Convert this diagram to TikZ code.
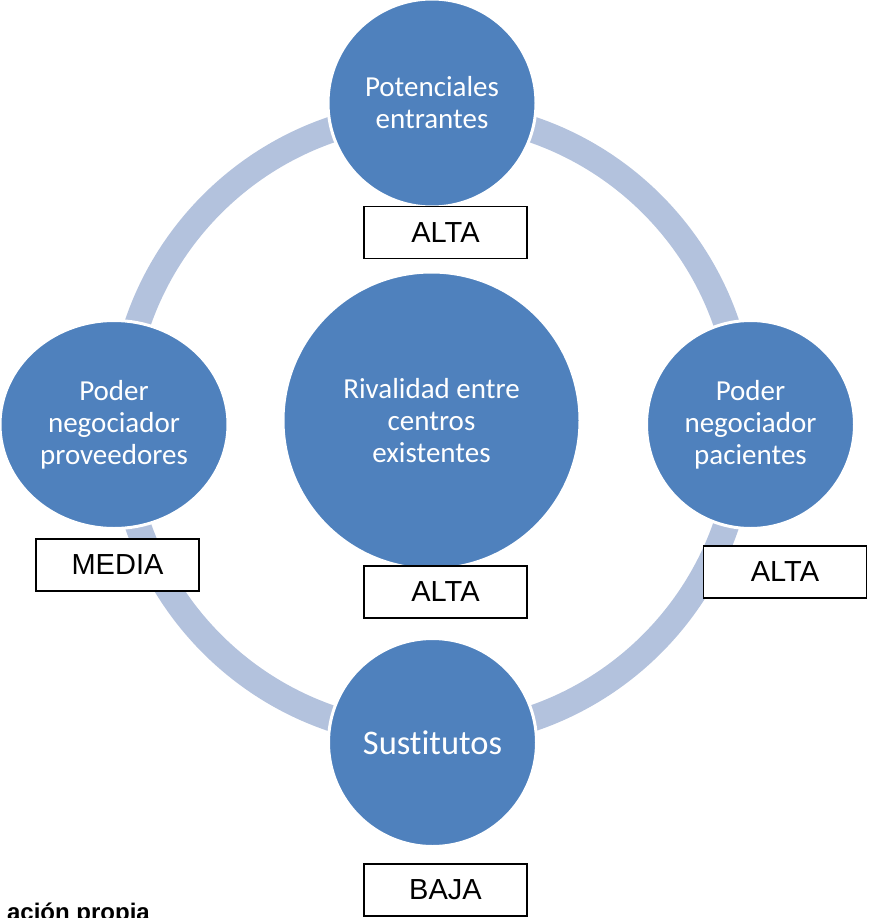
\documentclass[tikz,border=0pt]{standalone}
\usepackage{fontspec}
\setmainfont{Carlito}[Ligatures=NoCommon]
\newfontfamily\arialfont{Liberation Sans}
\usetikzlibrary{shapes.geometric}
\definecolor{forceblue}{HTML}{4F81BD}
\definecolor{ringblue}{HTML}{B3C2DD}

\begin{document}
\begin{tikzpicture}[x=1pt, y=-1pt,
  force/.style={circle, fill=forceblue, draw=white, line width=3pt,
    text=white, align=center, inner sep=0pt, minimum size=#1,
    font=\fontsize{29}{32}\selectfont},
  rating/.style={rectangle, draw=black, line width=1.5pt, fill=white,
    minimum width=163pt, minimum height=52pt, inner sep=0pt,
    font=\arialfont\fontsize{29}{34}\selectfont},
]
\useasboundingbox (0,0) rectangle (868,918);
\clip (0,0) rectangle (868,918);

% cycle ring behind the five forces
\draw[ringblue, line width=26pt] (432,424) circle[radius=311];

% the five forces
\node[force=208pt] (entrantes) at (432,103) {Potenciales\\entrantes};
\node[force=208pt, ellipse, minimum width=228pt, minimum height=208pt]
  (proveedores) at (114,424.5) {Poder\\negociador\\proveedores};
\node[force=208pt] (pacientes) at (750.5,424.5) {Poder\\negociador\\pacientes};
\node[force=297pt] (rivalidad) at (431.5,420.5) {Rivalidad entre\\centros\\existentes};
\node[force=208pt, font=\fontsize{34.5}{40}\selectfont] (sustitutos) at (432.5,742.5) {Sustitutos};

% intensity ratings
\node[rating] (rEntrantes) at (445.5,232.5) {ALTA};
\node[rating] (rProveedores) at (117.5,565) {MEDIA};
\node[rating] (rRivalidad) at (445.5,592) {ALTA};
\node[rating] (rPacientes) at (785,572) {ALTA};
\node[rating] (rSustitutos) at (445.5,890) {BAJA};

% source line
\node[anchor=base east, inner sep=0pt,
  font=\arialfont\bfseries\fontsize{24}{28}\selectfont] (fuente) at (150,920) {ación propia};
\end{tikzpicture}
\end{document}
